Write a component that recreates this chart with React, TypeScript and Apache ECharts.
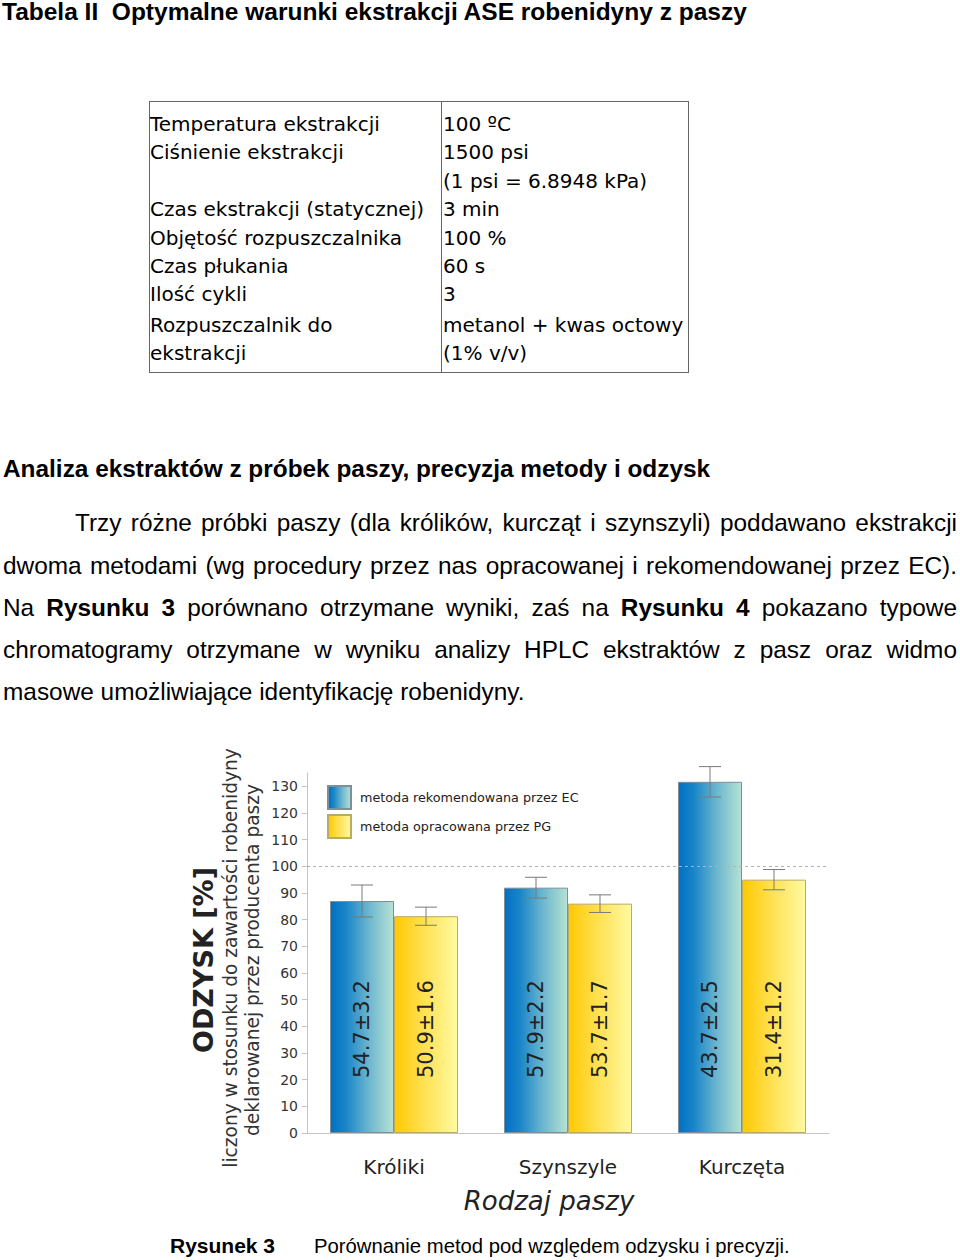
import React, { useEffect, useRef } from "react";
import * as echarts from "echarts";

// ---------- document text ----------
const titleText = "Tabela II\u00a0\u00a0Optymalne warunki ekstrakcji ASE robenidyny z paszy";
const tableLeft = [
  "Temperatura ekstrakcji",
  "Ciśnienie ekstrakcji",
  "",
  "Czas ekstrakcji (statycznej)",
  "Objętość rozpuszczalnika",
  "Czas płukania",
  "Ilość cykli",
  "Rozpuszczalnik do",
  "ekstrakcji",
];
const tableRight = [
  "100 ºC",
  "1500 psi",
  "(1 psi = 6.8948 kPa)",
  "3 min",
  "100 %",
  "60 s",
  "3",
  "metanol + kwas octowy",
  "(1% v/v)",
];
const tableLineY = [124, 152, 181, 209, 238, 266, 294, 325, 353];
const headingText = "Analiza ekstraktów z próbek paszy, precyzja metody i odzysk";
const captionLabel = "Rysunek 3";
const captionText = "Porównanie metod pod względem odzysku i precyzji.";

// ---------- chart data ----------
const categories = ["Króliki", "Szynszyle", "Kurczęta"];
const seriesNames = ["metoda rekomendowana przez EC", "metoda opracowana przez PG"];
const ecRecovery = [87.0, 92.0, 131.7];
const pgRecovery = [81.3, 86.0, 95.0];
const ecError = [6.0, 3.9, 5.7];
const pgError = [3.4, 3.3, 3.8];
const ecLabels = ["54.7±3.2", "57.9±2.2", "43.7±2.5"];
const pgLabels = ["50.9±1.6", "53.7±1.7", "31.4±1.2"];
const yTicks = [0, 10, 20, 30, 40, 50, 60, 70, 80, 90, 100, 110, 120, 130];
const referenceLevel = 100;
const yTitle = "ODZYSK [%]";
const ySub1 = "liczony w stosunku do zawartości robenidyny";
const ySub2 = "deklarowanej przez producenta paszy";
const xTitle = "Rodzaj paszy";

const FONT = "'DejaVu Sans', Verdana, sans-serif";
const ARIAL = "'Liberation Sans', Arial, sans-serif";
const BAR_W = 64;

const blueGrad = {
  type: "linear", x: 0, y: 0, x2: 1, y2: 0,
  colorStops: [
    { offset: 0, color: "#0070c4" },
    { offset: 0.25, color: "#1a86c8" },
    { offset: 0.6, color: "#6ab5cf" },
    { offset: 1, color: "#b6e2d3" },
  ],
};
const yellowGrad = {
  type: "linear", x: 0, y: 0, x2: 1, y2: 0,
  colorStops: [
    { offset: 0, color: "#ffc800" },
    { offset: 0.35, color: "#ffdb40" },
    { offset: 1, color: "#fffaa2" },
  ],
};

function errorSeries(name: string, values: number[], errs: number[], offset: number) {
  return {
    type: "custom",
    name,
    silent: true,
    z: 10,
    data: values.map((v, i) => [i, v - errs[i], v + errs[i]]),
    encode: { x: 0, y: [1, 2] },
    renderItem: (params: any, api: any) => {
      const idx = api.value(0);
      const lo = api.coord([idx, api.value(1)]);
      const hi = api.coord([idx, api.value(2)]);
      const cx = lo[0] + offset;
      const st = { stroke: "#7a7a7a", lineWidth: 1 };
      return {
        type: "group",
        children: [
          { type: "line", shape: { x1: cx, y1: lo[1], x2: cx, y2: hi[1] }, style: st },
          { type: "line", shape: { x1: cx - 11, y1: hi[1], x2: cx + 11, y2: hi[1] }, style: st },
          { type: "line", shape: { x1: cx - 11, y1: lo[1], x2: cx + 11, y2: lo[1] }, style: st },
        ],
      };
    },
  };
}

function Chart() {
  const ref = useRef<HTMLDivElement>(null);
  useEffect(() => {
    if (!ref.current) return;
    const chart = echarts.init(ref.current, null, { renderer: "svg" });
    const barLabel = (labels: string[]) => ({
      show: true,
      position: "insideBottom",
      distance: 55,
      rotate: 90,
      align: "left",
      verticalAlign: "middle",
      fontSize: 21,
      fontFamily: FONT,
      color: "#222",
      formatter: (p: any) => labels[p.dataIndex],
    });
    chart.setOption({
      animation: false,
      textStyle: { fontFamily: FONT },
      grid: { left: 307, top: 33, width: 522, height: 360, outerBoundsMode: "none" },
      legend: {
        data: seriesNames,
        orient: "vertical",
        left: 322,
        top: 40,
        itemWidth: 23,
        itemHeight: 23,
        itemGap: 4,
        icon: "rect",
        textStyle: { fontSize: 12.75, color: "#222", fontFamily: FONT, padding: [0, 0, 0, 4] },
      },
      xAxis: {
        type: "category",
        data: categories,
        axisLine: { lineStyle: { color: "#c4c4c4" } },
        axisTick: { show: false },
        axisLabel: { fontSize: 20, color: "#222", margin: 24, fontFamily: FONT },
      },
      yAxis: {
        type: "value",
        min: 0,
        max: 135,
        interval: 10,
        splitLine: { show: false },
        axisLine: { show: true, lineStyle: { color: "#c4c4c4" } },
        axisTick: { show: true, length: 5, customValues: yTicks, lineStyle: { color: "#c4c4c4" } },
        axisLabel: { customValues: yTicks, fontSize: 14, color: "#333", margin: 9, fontFamily: FONT },
      },
      series: [
        {
          type: "bar",
          name: seriesNames[0],
          data: ecRecovery,
          barWidth: BAR_W,
          barGap: "0%",
          itemStyle: { color: blueGrad, borderColor: "#7d8f9a", borderWidth: 1 },
          label: barLabel(ecLabels),
          markLine: {
            silent: true,
            symbol: "none",
            label: { show: false },
            lineStyle: { type: [3, 3], color: "#b0b0b0", width: 1 },
            data: [{ yAxis: referenceLevel }],
          },
        },
        {
          type: "bar",
          name: seriesNames[1],
          data: pgRecovery,
          barWidth: BAR_W,
          barGap: "0%",
          itemStyle: { color: yellowGrad, borderColor: "#b9ab66", borderWidth: 1 },
          label: barLabel(pgLabels),
        },
        errorSeries("errEC", ecRecovery, ecError, -BAR_W / 2),
        errorSeries("errPG", pgRecovery, pgError, BAR_W / 2),
      ],
      graphic: [
        {
          type: "text", x: 203, y: 220, rotation: Math.PI / 2,
          style: { text: yTitle, fontSize: 27, fontWeight: "bold", fontFamily: FONT, fill: "#222", align: "center", verticalAlign: "middle" },
        },
        {
          type: "text", x: 230, y: 218, rotation: Math.PI / 2,
          style: { text: ySub1, fontSize: 18.6, fontFamily: FONT, fill: "#333", align: "center", verticalAlign: "middle" },
        },
        {
          type: "text", x: 252, y: 220, rotation: Math.PI / 2,
          style: { text: ySub2, fontSize: 18.6, fontFamily: FONT, fill: "#333", align: "center", verticalAlign: "middle" },
        },
        {
          type: "text", x: 549, y: 461,
          style: { text: xTitle, fontSize: 26, fontStyle: "italic", fontFamily: FONT, fill: "#222", align: "center", verticalAlign: "middle" },
        },
      ],
    });
    return () => chart.dispose();
  }, []);
  return <div ref={ref} style={{ position: "absolute", left: 0, top: 740, width: 960, height: 490 }} />;
}

const abs = (left: number, top: number, extra: any = {}) => ({ position: "absolute" as const, left, top, ...extra });

export default function App() {
  const paraStyle = { fontFamily: ARIAL, fontSize: 24.4, lineHeight: "30px", height: 30, color: "#000" };
  const just = { textAlign: "justify" as const, textAlignLast: "justify" as const };
  return (
    <div style={{ position: "absolute", left: 0, top: 0, width: 960, height: 1260, background: "#fff", color: "#000" }}>
      <div style={abs(2, 0, { fontFamily: ARIAL, fontWeight: "bold", fontSize: 24.5, lineHeight: "24px", whiteSpace: "pre" })}>{titleText}</div>

      <div style={abs(149, 101, { width: 540, height: 272, border: "1px solid #666", boxSizing: "border-box" })} />
      <div style={abs(441, 101, { width: 1, height: 272, background: "#666" })} />
      {tableLeft.map((t, i) => (
        <div key={"l" + i} style={abs(150, tableLineY[i] - 14.2, { fontFamily: FONT, fontSize: 20, lineHeight: "28.4px", whiteSpace: "pre" })}>{t}</div>
      ))}
      {tableRight.map((t, i) => (
        <div key={"r" + i} style={abs(443, tableLineY[i] - 14.2, { fontFamily: FONT, fontSize: 20, lineHeight: "28.4px", whiteSpace: "pre" })}>{t}</div>
      ))}

      <div style={abs(3, 454, { ...paraStyle, fontWeight: "bold", whiteSpace: "pre" })}>{headingText}</div>

      <div style={abs(75, 508, { ...paraStyle, ...just, width: 882 })}>
        Trzy różne próbki paszy (dla królików, kurcząt i szynszyli) poddawano ekstrakcji
      </div>
      <div style={abs(3, 551, { ...paraStyle, ...just, width: 954 })}>
        dwoma metodami (wg procedury przez nas opracowanej i rekomendowanej przez EC).
      </div>
      <div style={abs(3, 593, { ...paraStyle, ...just, width: 954 })}>
        Na <b>Rysunku 3</b> porównano otrzymane wyniki, zaś na <b>Rysunku 4</b> pokazano typowe
      </div>
      <div style={abs(3, 635, { ...paraStyle, ...just, width: 954 })}>
        chromatogramy otrzymane w wyniku analizy HPLC ekstraktów z pasz oraz widmo
      </div>
      <div style={abs(3, 677, { ...paraStyle, whiteSpace: "pre" })}>
        masowe umożliwiające identyfikację robenidyny.
      </div>

      <Chart />

      <div style={abs(170, 1233, { fontFamily: ARIAL, fontSize: 21, fontWeight: "bold", lineHeight: "26px", whiteSpace: "pre" })}>{captionLabel}</div>
      <div style={abs(314, 1233, { fontFamily: ARIAL, fontSize: 20.3, lineHeight: "26px", whiteSpace: "pre" })}>{captionText}</div>
    </div>
  );
}
